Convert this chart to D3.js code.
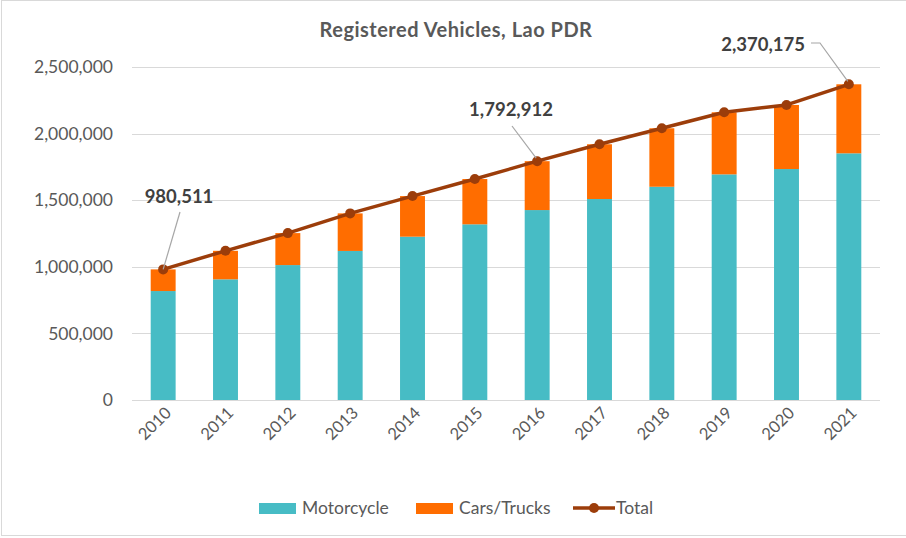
<!DOCTYPE html>
<html>
<head>
<meta charset="utf-8">
<script src="https://cdn.jsdelivr.net/npm/d3@7"></script>
<style>
  html, body { margin: 0; padding: 0; background: #fff; }
  svg { display: block; font-family: Lato, "Open Sans", sans-serif; }
</style>
</head>
<body>
<svg id="chart" width="906" height="538"></svg>
<script>
const years = ["2010","2011","2012","2013","2014","2015","2016","2017","2018","2019","2020","2021"];
const motorcycle = [818000, 906000, 1013000, 1119000, 1226000, 1319000, 1426000, 1509000, 1601000, 1694000, 1734000, 1852000];
const carsTrucks = [162511, 214000, 240000, 282000, 305000, 340000, 366912, 411000, 439000, 466000, 481000, 518175];
const total = [980511, 1120000, 1253000, 1401000, 1531000, 1659000, 1792912, 1920000, 2040000, 2160000, 2215000, 2370175];
const yTicks = [0, 500000, 1000000, 1500000, 2000000, 2500000];
const seriesNames = ["Motorcycle", "Cars/Trucks", "Total"];
const annotated = [
  { year: "2010", value: 980511 },
  { year: "2016", value: 1792912 },
  { year: "2021", value: 2370175 }
];

const colors = { moto: "#47BCC5", cars: "#FF6D00", total: "#9C3D0A" };
const textGray = "#595959";

const svg = d3.select("#chart");

// outer border
svg.append("rect").attr("x", 1.5).attr("y", 0.5).attr("width", 906).attr("height", 535)
  .attr("fill", "#fff").attr("stroke", "#d9d9d9").attr("stroke-width", 1);

const x = d3.scaleBand().domain(years).range([132, 880]).paddingInner(0.6).paddingOuter(0.3);
const y = d3.scaleLinear().domain([0, 2500000]).range([400, 67]);

// title
svg.append("text").attr("x", 456).attr("y", 37).attr("text-anchor", "middle")
  .attr("fill", textGray).attr("font-size", 20).attr("font-weight", 700)
  .attr("letter-spacing", 0.5)
  .text("Registered Vehicles, Lao PDR");

// gridlines
svg.append("g").selectAll("line").data(yTicks).join("line")
  .attr("x1", 132).attr("x2", 880)
  .attr("y1", d => Math.round(y(d)) + 0.5).attr("y2", d => Math.round(y(d)) + 0.5)
  .attr("stroke", "#d9d9d9").attr("stroke-width", 1.2);

// y axis labels
const yAxis = d3.axisLeft(y).tickValues(yTicks).tickFormat(d3.format(",")).tickSize(0).tickPadding(0);
const gy = svg.append("g").attr("transform", "translate(113,0)").call(yAxis);
gy.select(".domain").remove();
gy.selectAll("text").attr("fill", textGray).attr("font-size", 17.5).attr("font-family", "Lato, sans-serif");

// x axis labels
const xAxis = d3.axisBottom(x).tickSize(0).tickPadding(0);
const gx = svg.append("g").attr("transform", "translate(0,400)").call(xAxis);
gx.select(".domain").remove();
gx.selectAll("text")
  .attr("fill", textGray).attr("font-size", 16.5).attr("font-family", "Lato, sans-serif")
  .attr("text-anchor", "end")
  .attr("dy", null)
  .attr("transform", "translate(9,14) rotate(-45)");

// stacked bars
const stackData = years.map((yr, i) => ({ year: yr, moto: motorcycle[i], cars: carsTrucks[i] }));
const stack = d3.stack().keys(["moto", "cars"])(stackData);
svg.append("g").selectAll("g").data(stack).join("g")
  .attr("fill", d => colors[d.key])
  .selectAll("rect").data(d => d).join("rect")
  .attr("x", d => x(d.data.year))
  .attr("width", x.bandwidth())
  .attr("y", d => y(d[1]))
  .attr("height", d => y(d[0]) - y(d[1]));

// total line
const cx = yr => x(yr) + x.bandwidth() / 2;
const lineData = years.map((yr, i) => ({ year: yr, v: total[i] }));
svg.append("path").datum(lineData)
  .attr("fill", "none").attr("stroke", colors.total).attr("stroke-width", 3.5)
  .attr("stroke-linejoin", "round")
  .attr("d", d3.line().x(d => cx(d.year)).y(d => y(d.v)));
svg.append("g").selectAll("circle").data(lineData).join("circle")
  .attr("cx", d => cx(d.year)).attr("cy", d => y(d.v)).attr("r", 5)
  .attr("fill", colors.total);

// annotations
const fmt = d3.format(",");
const ann = svg.append("g").attr("font-size", 18.5).attr("font-weight", 700).attr("fill", "#404040");
// 2010
{
  const a = annotated[0], px = cx(a.year), py = y(a.value);
  ann.append("line").attr("x1", 180).attr("y1", 212).attr("x2", px).attr("y2", py)
    .attr("stroke", "#a6a6a6").attr("stroke-width", 1.2);
  ann.append("text").attr("x", 179).attr("y", 203).attr("text-anchor", "middle").text(fmt(a.value));
}
// 2016
{
  const a = annotated[1], px = cx(a.year), py = y(a.value);
  ann.append("line").attr("x1", 512).attr("y1", 126).attr("x2", px - 1).attr("y2", py - 3)
    .attr("stroke", "#a6a6a6").attr("stroke-width", 1.2);
  ann.append("text").attr("x", 511).attr("y", 116).attr("text-anchor", "middle").text(fmt(a.value));
}
// 2021
{
  const a = annotated[2], px = cx(a.year), py = y(a.value);
  ann.append("polyline").attr("points", `811,43 820,43 ${px - 1},${py - 3}`)
    .attr("fill", "none").attr("stroke", "#a6a6a6").attr("stroke-width", 1.2);
  ann.append("text").attr("x", 805).attr("y", 51).attr("text-anchor", "end").text(fmt(a.value));
}

// legend
const leg = svg.append("g").attr("font-size", 17.5).attr("fill", textGray);
const legendItems = [
  { name: seriesNames[0], type: "rect", color: colors.moto, x: 259 },
  { name: seriesNames[1], type: "rect", color: colors.cars, x: 416 },
  { name: seriesNames[2], type: "line", color: colors.total, x: 573 }
];
legendItems.forEach(it => {
  if (it.type === "rect") {
    leg.append("rect").attr("x", it.x).attr("y", 503).attr("width", 37).attr("height", 11).attr("fill", it.color);
  } else {
    leg.append("line").attr("x1", it.x).attr("x2", it.x + 42).attr("y1", 508).attr("y2", 508)
      .attr("stroke", it.color).attr("stroke-width", 3.5);
    leg.append("circle").attr("cx", it.x + 21).attr("cy", 508).attr("r", 5).attr("fill", it.color);
  }
  leg.append("text").attr("x", it.x + 43).attr("y", 514).text(it.name);
});
</script>
</body>
</html>
